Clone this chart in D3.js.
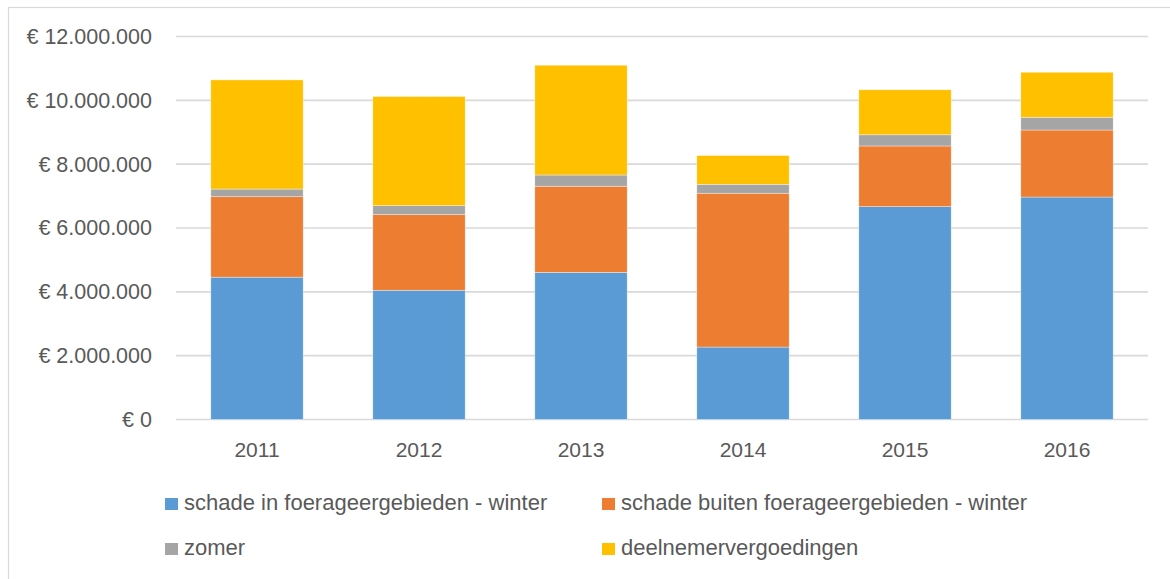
<!DOCTYPE html>
<html>
<head>
<meta charset="utf-8">
<script src="https://cdn.jsdelivr.net/npm/d3@7"></script>
<style>
    body { margin: 0; background: #fff; }
    svg { display: block; font-family: "Liberation Sans", Arial, sans-serif; }
    .axis text { fill: #595959; }
</style>
</head>
<body>
<div id="chart"></div>
<script>

var years = ['2011', '2012', '2013', '2014', '2015', '2016'];

var seriesNames = [
    'schade in foerageergebieden - winter',
    'schade buiten foerageergebieden - winter',
    'zomer',
    'deelnemervergoedingen'
];

var schadeIn = [4460000, 4050000, 4610000, 2270000, 6670000, 6970000];
var schadeBuiten = [2520000, 2370000, 2700000, 4820000, 1900000, 2100000];
var zomer = [240000, 280000, 350000, 280000, 350000, 400000];
var deelnemer = [3420000, 3420000, 3440000, 900000, 1410000, 1410000];

var yTicks = [0, 2000000, 4000000, 6000000, 8000000, 10000000, 12000000];

var colors = ['#5b9bd5', '#ed7d31', '#a5a5a5', '#ffc000'];

var width = 1170;
var height = 579;

var margin = {
    left: 176,
    right: 22,
    top: 36.5,
    bottom: 159.5
};

var table = years.map(function(y, i) {
    return {
        year: y,
        s0: schadeIn[i],
        s1: schadeBuiten[i],
        s2: zomer[i],
        s3: deelnemer[i]
    };
});

var svg = d3.select('#chart')
    .append('svg')
    .attr('width', width)
    .attr('height', height);

// chart border
svg.append('rect')
    .attr('x', 8.5)
    .attr('y', 7.5)
    .attr('width', width)
    .attr('height', height)
    .attr('fill', 'none')
    .attr('stroke', '#d9d9d9')
    .attr('stroke-width', 1.2);

var xScale = d3.scaleBand()
    .domain(years)
    .range([margin.left, width - margin.right])
    .paddingInner(0.43)
    .paddingOuter(0.215);

var yScale = d3.scaleLinear()
    .domain([0, 12000000])
    .range([height - margin.bottom, margin.top]);

// gridlines
svg.append('g')
    .selectAll('line')
    .data(yTicks)
    .enter()
    .append('line')
    .attr('x1', margin.left)
    .attr('x2', width - margin.right)
    .attr('y1', d => yScale(d))
    .attr('y2', d => yScale(d))
    .attr('stroke', '#d9d9d9')
    .attr('stroke-width', 1.6);

var stack = d3.stack().keys(['s0', 's1', 's2', 's3']);
var layers = stack(table);

svg.append('g')
    .selectAll('g')
    .data(layers)
    .enter()
    .append('g')
    .attr('fill', (d, i) => colors[i])
    .selectAll('rect')
    .data(d => d)
    .enter()
    .append('rect')
    .attr('x', d => xScale(d.data.year))
    .attr('width', xScale.bandwidth())
    .attr('y', d => yScale(d[1]))
    .attr('height', d => yScale(d[0]) - yScale(d[1]))
    .attr('stroke', '#ffffff')
    .attr('stroke-opacity', 0.6)
    .attr('stroke-width', 0.6);

var fmt = function(v) {
    if (v === 0) return '€ 0';
    return '€ ' + d3.format(',')(v).replace(/,/g, '.');
};

var yAxis = svg.append('g')
    .attr('class', 'axis y-axis')
    .attr('transform', 'translate(' + [152, 0] + ')')
    .call(d3.axisLeft(yScale)
        .tickValues(yTicks)
        .tickFormat(fmt)
        .tickSize(0)
        .tickPadding(0));
yAxis.select('.domain').remove();
yAxis.selectAll('text')
    .attr('font-size', 21.5)
    .attr('font-family', '"Liberation Sans", Arial, sans-serif');

var xAxis = svg.append('g')
    .attr('class', 'axis x-axis')
    .attr('transform', 'translate(' + [0, height - margin.bottom] + ')')
    .call(d3.axisBottom(xScale).tickSize(0).tickPadding(0));
xAxis.select('.domain').remove();
xAxis.selectAll('text')
    .attr('dy', null)
    .attr('y', 32)
    .attr('dominant-baseline', 'middle')
    .attr('font-size', 21)
    .attr('font-family', '"Liberation Sans", Arial, sans-serif');

// legend
var legendPos = [
    [165, 504],
    [602, 504],
    [165, 549],
    [602, 549]
];

var legend = svg.append('g')
    .selectAll('g')
    .data(seriesNames)
    .enter()
    .append('g')
    .attr('transform', (d, i) => 'translate(' + legendPos[i] + ')');

legend.append('rect')
    .attr('x', 0)
    .attr('y', -6)
    .attr('width', 13)
    .attr('height', 12)
    .attr('fill', (d, i) => colors[i]);

legend.append('text')
    .attr('x', 19)
    .attr('y', 0)
    .attr('dominant-baseline', 'middle')
    .attr('fill', '#595959')
    .attr('font-size', 22)
    .text(d => d);

</script>
</body>
</html>
